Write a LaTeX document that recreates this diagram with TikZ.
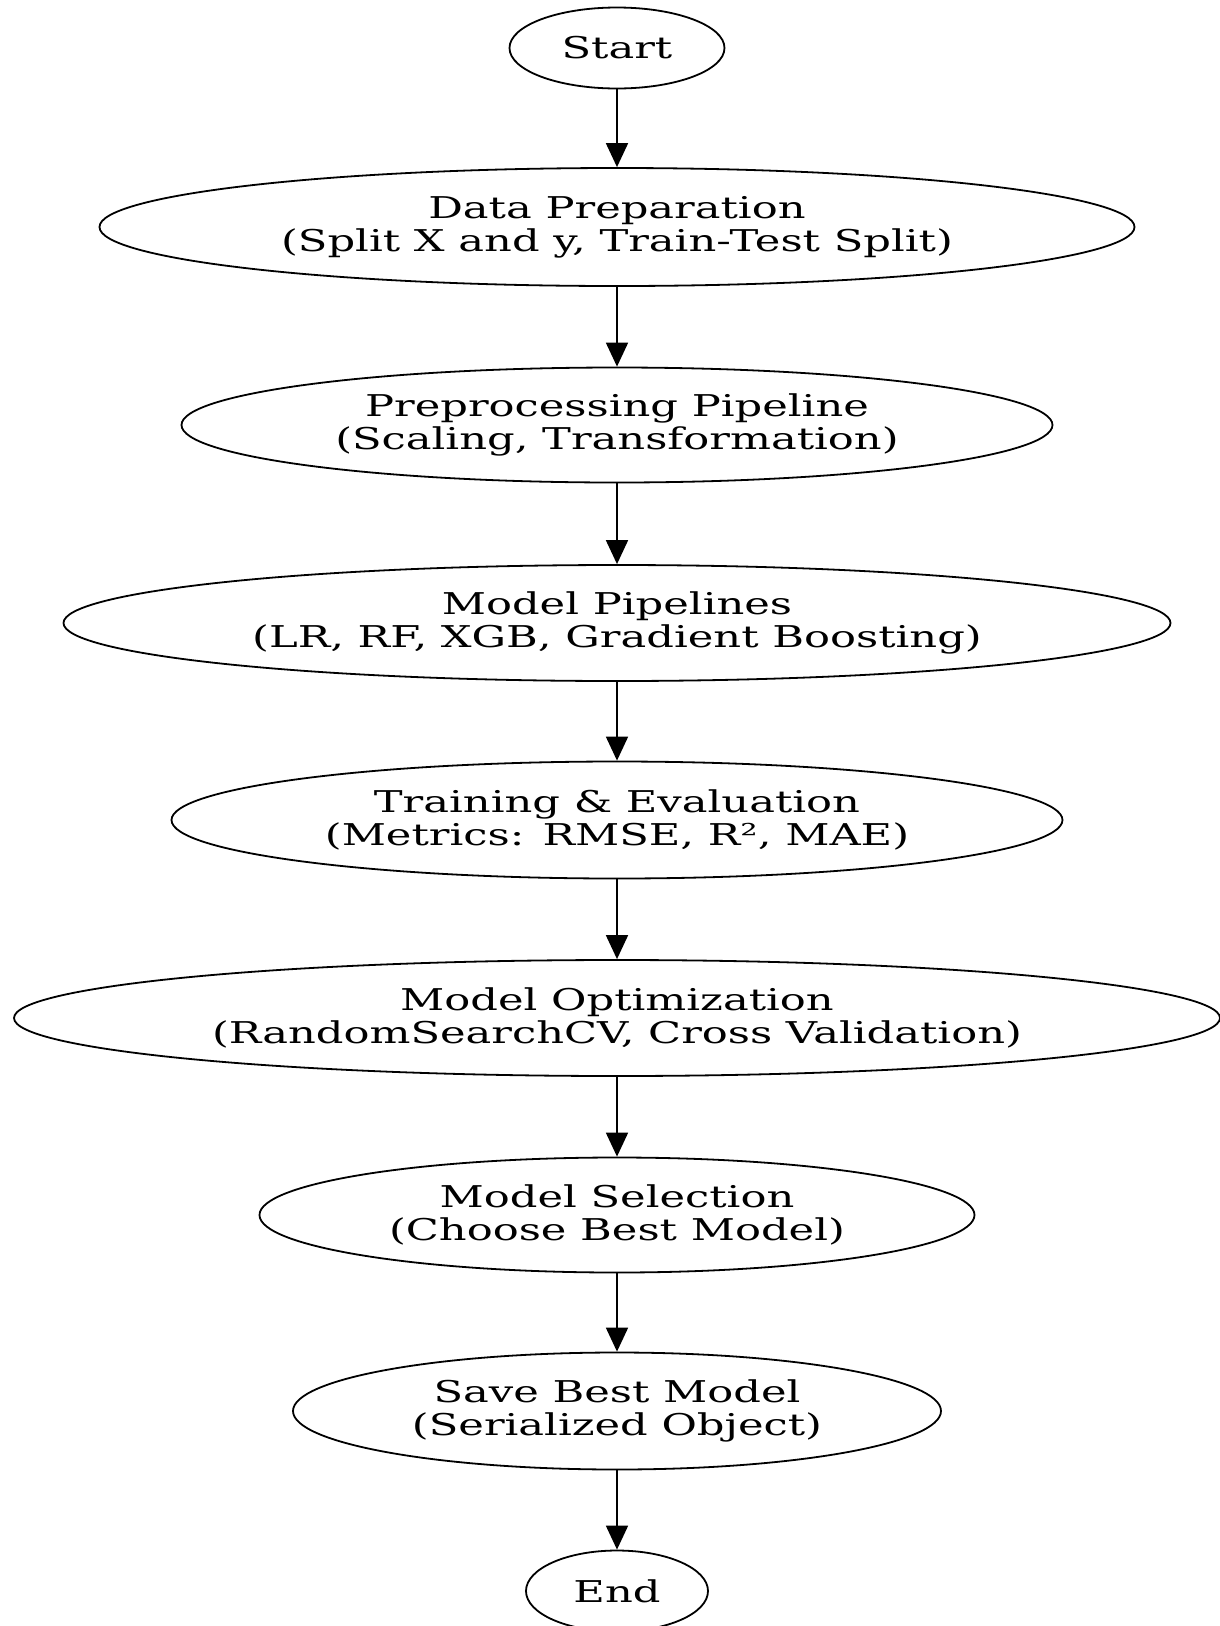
\documentclass[tikz,border=0pt]{standalone}
\usepackage{fontspec}
\setmainfont[FakeStretch=1.44]{DejaVu Serif}
\usetikzlibrary{shapes.geometric,arrows.meta}

\begin{document}
\begin{tikzpicture}[
		x=1pt, y=-1pt,
		step node/.style={ellipse,draw,line width=1.8pt,inner sep=0pt,align=center,
			font=\fontsize{30}{33}\selectfont,minimum width=#1},
		flow/.style={line width=1.8pt,-{Triangle[length=24pt,width=22pt]}},
]

\def\midX{617}

\useasboundingbox (0,0) rectangle (1219,1626);

\node [step node=215pt, minimum height=81pt] (start) at (\midX, 48) {Start};
\node [step node=1035pt, minimum height=118pt] (prep) at (\midX, 227)
	{Data Preparation\\(Split X and y, Train-Test Split)};
\node [step node=871pt, minimum height=115pt] (preproc) at (\midX, 425)
	{Preprocessing Pipeline\\(Scaling, Transformation)};
\node [step node=1107pt, minimum height=116pt] (pipes) at (\midX, 623)
	{Model Pipelines\\(LR, RF, XGB, Gradient Boosting)};
\node [step node=891pt, minimum height=117pt] (train) at (\midX, 820)
	{Training \& Evaluation\\(Metrics: RMSE, R², MAE)};
\node [step node=1206pt, minimum height=116pt] (optim) at (\midX, 1018)
	{Model Optimization\\(RandomSearchCV, Cross Validation)};
\node [step node=715pt, minimum height=115pt] (select) at (\midX, 1215)
	{Model Selection\\(Choose Best Model)};
\node [step node=648pt, minimum height=117pt] (save) at (\midX, 1411)
	{Save Best Model\\(Serialized Object)};
\node [step node=182pt, minimum height=81pt] (end) at (\midX, 1591) {End};

% connectors, top to bottom
\foreach \a/\b in {start/prep, prep/preproc, preproc/pipes, pipes/train,
		train/optim, optim/select, select/save, save/end}
	\draw [flow] (\a.south) -- (\b.north);

\end{tikzpicture}
\end{document}
